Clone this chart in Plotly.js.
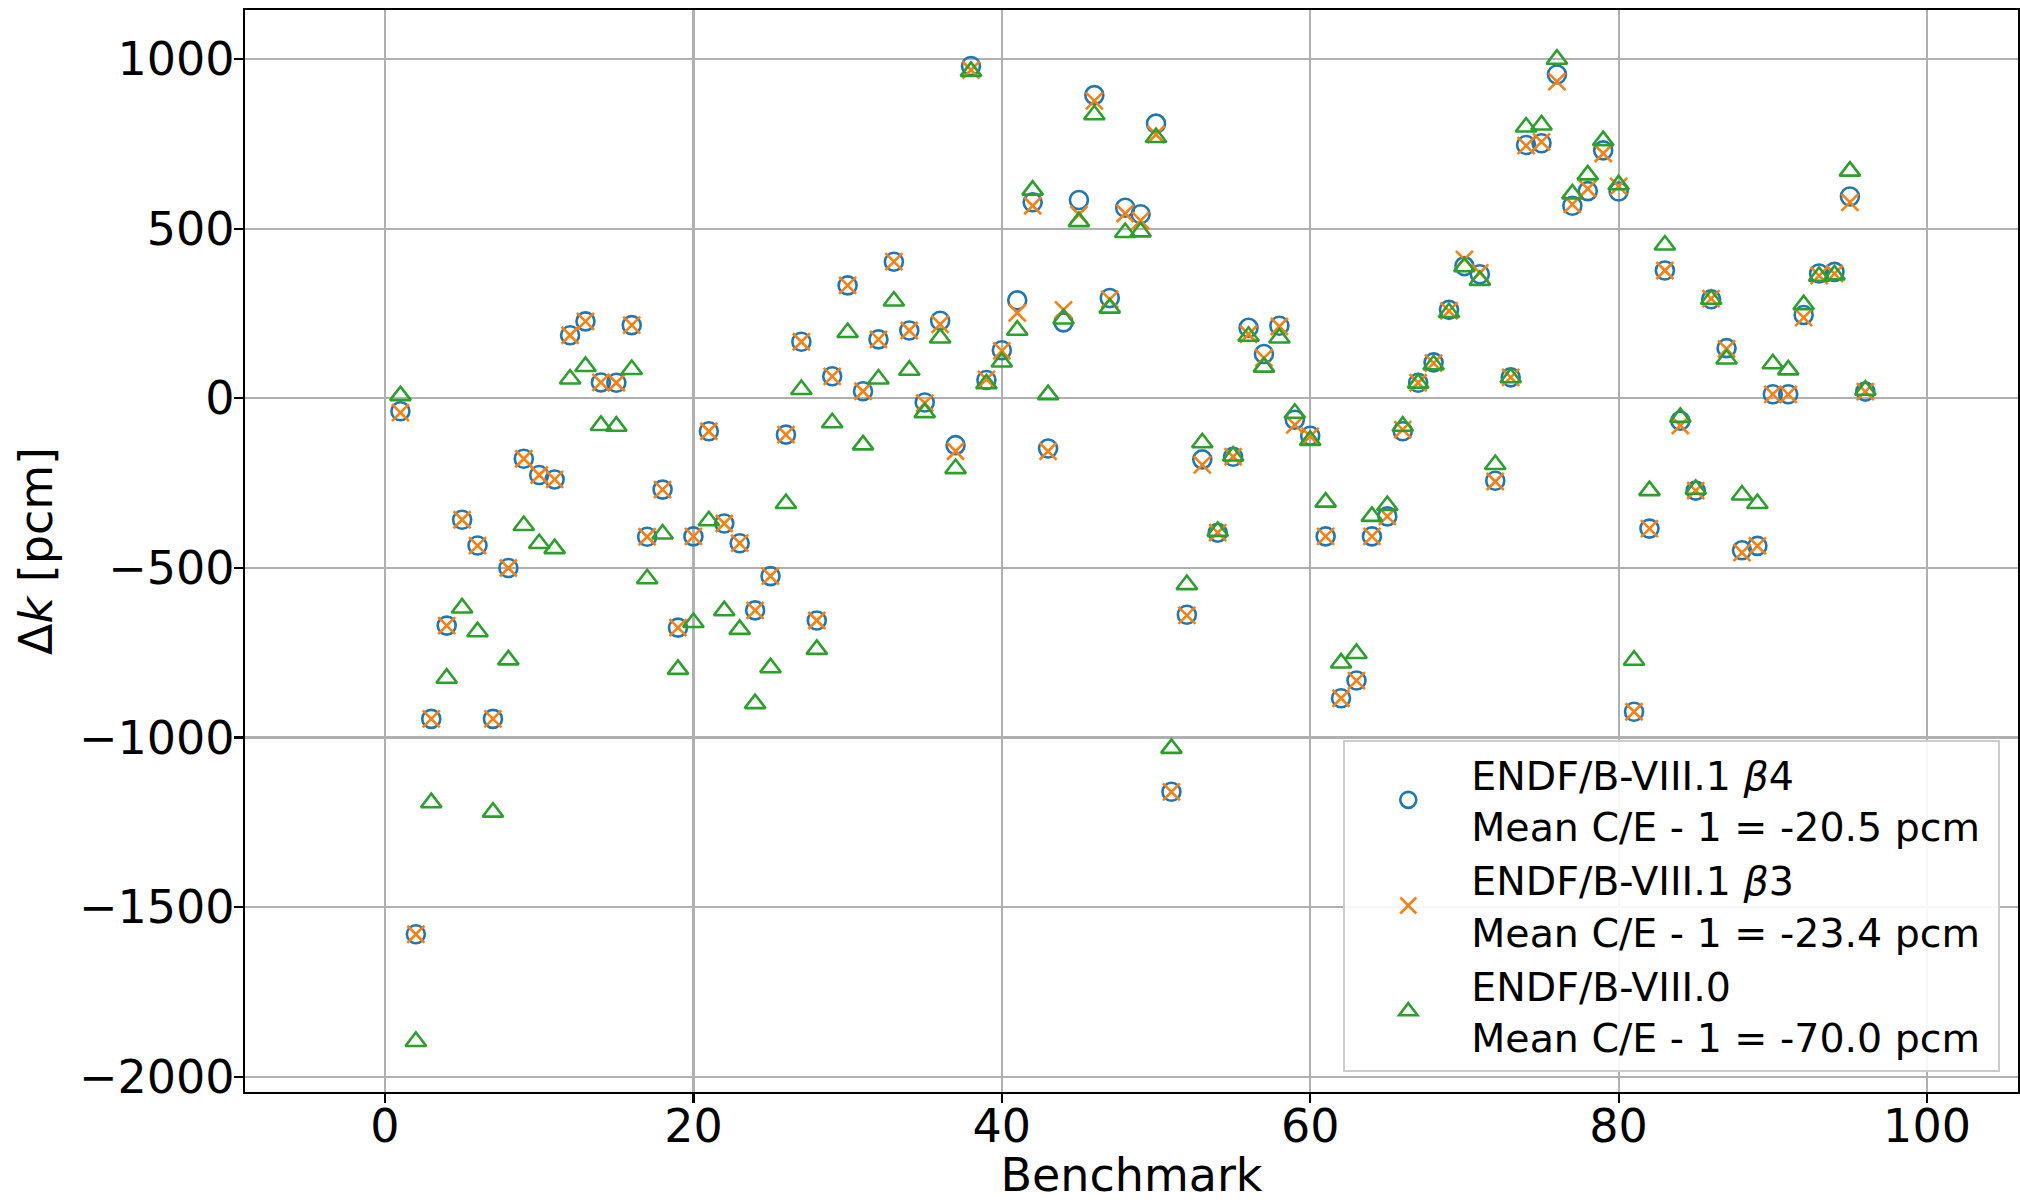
<!DOCTYPE html>
<html>
<head>
<meta charset="utf-8">
<script src="https://cdn.plot.ly/plotly-3.0.1.min.js"></script>
<style>
  html, body { margin: 0; padding: 0; background: #fff; }
  #chart { width: 2020px; height: 1202px; }
</style>
</head>
<body>
<div id="chart"></div>
<script>
// Benchmark numbers
const benchmarks = [1,2,3,4,5,6,7,8,9,10,11,12,13,14,15,16,17,18,19,20,21,22,23,24,25,26,27,28,29,30,31,32,33,34,35,36,37,38,39,40,41,42,43,44,45,46,47,48,49,50,51,52,53,54,55,56,57,58,59,60,61,62,63,64,65,66,67,68,69,70,71,72,73,74,75,76,77,78,79,80,81,82,83,84,85,86,87,88,89,90,91,92,93,94,95,96];

// ENDF/B-VIII.1 beta4 (circles), delta k in pcm
const beta4 = [-38,-1580,-945,-670,-358,-434,-945,-500,-178,-226,-239,186,227,47,46,216,-408,-269,-676,-407,-97,-369,-427,-625,-524,-107,167,-655,65,333,21,174,403,200,-12,229,-138,980,54,142,289,578,-148,224,585,894,296,562,543,810,-1160,-638,-180,-396,-172,208,131,214,-63,-110,-407,-884,-832,-407,-348,-97,46,106,261,390,366,-243,62,747,752,955,568,611,731,610,-924,-384,377,-66,-272,292,148,-448,-435,12,12,246,368,373,595,20];

// ENDF/B-VIII.1 beta3 (crosses)
const beta3 = [-42,-1580,-945,-670,-358,-434,-945,-500,-178,-226,-239,186,227,47,46,216,-408,-269,-676,-407,-97,-369,-427,-625,-524,-107,167,-655,65,333,21,174,403,200,-14,218,-156,968,56,140,252,568,-156,261,542,877,292,545,524,778,-1160,-640,-196,-396,-172,189,119,212,-78,-112,-407,-884,-832,-407,-348,-92,46,104,258,410,370,-245,62,745,756,934,572,618,722,625,-924,-384,377,-80,-272,294,146,-455,-435,12,12,238,362,368,578,20];

// ENDF/B-VIII.0 (triangles)
const viii0 = [8,-1896,-1192,-825,-618,-688,-1220,-771,-375,-428,-443,57,94,-80,-82,85,-532,-400,-799,-661,-361,-626,-681,-900,-794,-310,26,-740,-72,194,-137,57,287,83,-42,178,-207,964,43,107,201,614,11,234,521,836,266,489,491,769,-1032,-549,-131,-392,-170,183,92,178,-44,-124,-306,-780,-752,-348,-316,-82,45,99,253,388,348,-195,61,800,806,1000,603,659,760,630,-772,-272,452,-56,-268,292,116,-285,-310,102,84,276,360,364,670,24];

const seriesNames = [
  'ENDF/B-VIII.1 <i>β</i>4<br>Mean C/E - 1 = -20.5 pcm&nbsp;',
  'ENDF/B-VIII.1 <i>β</i>3<br>Mean C/E - 1 = -23.4 pcm&nbsp;',
  'ENDF/B-VIII.0<br>Mean C/E - 1 = -70.0 pcm&nbsp;'
];

const xTicks = [0, 20, 40, 60, 80, 100];
const yTicks = [-2000, -1500, -1000, -500, 0, 500, 1000];

const FONT = 'DejaVu Sans, Liberation Sans, sans-serif';

const traces = [
  {
    x: benchmarks, y: beta4, name: seriesNames[0], type: 'scatter', mode: 'markers',
    marker: { symbol: 'circle-open', size: 18, color: '#1f77b4', line: { width: 2.6, color: '#1f77b4' } }
  },
  {
    x: benchmarks, y: beta3, name: seriesNames[1], type: 'scatter', mode: 'markers',
    marker: { symbol: 'x-thin-open', size: 17, color: '#ff7f0e', line: { width: 2.6, color: '#ff7f0e' } }
  },
  {
    x: benchmarks, y: viii0, name: seriesNames[2], type: 'scatter', mode: 'markers',
    marker: { symbol: 'triangle-up-open', size: 18, color: '#2ca02c', line: { width: 2.6, color: '#2ca02c' } }
  }
];

const layout = {
  width: 2020, height: 1202,
  margin: { l: 245, r: 2, t: 10, b: 110 },
  paper_bgcolor: '#fff', plot_bgcolor: '#fff',
  font: { family: FONT, size: 46, color: '#000' },
  showlegend: true,
  xaxis: {
    range: [-9.08, 105.9],
    tickvals: xTicks,
    ticktext: xTicks.map(String),
    ticks: 'outside', ticklen: 9, tickwidth: 2.2, tickcolor: '#000',
    ticklabelstandoff: -16,
    showline: true, linecolor: '#000', linewidth: 2.2, mirror: true,
    showgrid: true, gridcolor: '#b0b0b0', gridwidth: 2.2,
    zeroline: false,
    tickfont: { family: FONT, size: 46, color: '#000' },
    title: { text: 'Benchmark', font: { family: FONT, size: 46, color: '#000' }, standoff: 25 }
  },
  yaxis: {
    range: [-2045, 1145],
    tickvals: yTicks,
    ticks: 'outside', ticklen: 9, tickwidth: 2.2, tickcolor: '#000',
    ticklabelstandoff: -10,
    showline: true, linecolor: '#000', linewidth: 2.2, mirror: true,
    showgrid: true, gridcolor: '#b0b0b0', gridwidth: 2.2,
    zeroline: false,
    tickfont: { family: FONT, size: 46, color: '#000' },
    title: { text: 'Δ<i>k</i> [pcm]', font: { family: FONT, size: 46, color: '#000' }, standoff: 12 }
  },
  legend: {
    x: 0.99, y: 0.0185, xanchor: 'right', yanchor: 'bottom',
    bgcolor: 'rgba(255,255,255,0.9)', bordercolor: '#cccccc', borderwidth: 2,
    font: { family: FONT, size: 39.5, color: '#000' },
    itemwidth: 116,
    tracegroupgap: 0
  }
};

Plotly.newPlot('chart', traces, layout, { displayModeBar: false, staticPlot: true });
</script>
</body>
</html>
